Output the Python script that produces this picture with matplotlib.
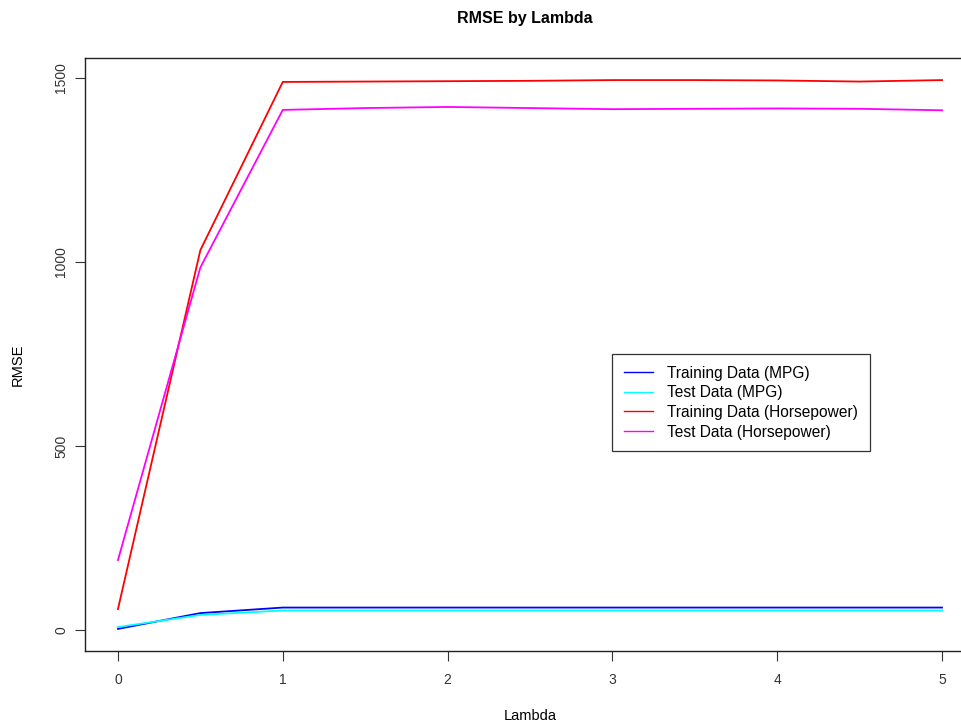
import matplotlib
matplotlib.use("Agg")
import matplotlib.pyplot as plt
from matplotlib.lines import Line2D

plt.rcParams['font.family'] = ['Liberation Sans', 'DejaVu Sans']

# lambda grid and RMSE values
lambdas = [0, 0.5, 1, 1.5, 2, 2.5, 3, 3.5, 4, 4.5, 5]
train_mpg = [3, 46, 61, 61, 61, 61, 61, 61, 61, 61, 61]
test_mpg = [8, 41, 53, 53, 53, 53, 53, 53, 53, 53, 53]
train_hp = [57, 1032, 1489, 1490, 1491, 1492, 1494, 1494, 1493, 1490, 1494]
test_hp = [190, 985, 1413, 1418, 1421, 1418, 1415, 1416, 1417, 1416, 1412]

series = [
    ("Training Data (MPG)", train_mpg, "blue"),
    ("Test Data (MPG)", test_mpg, "cyan"),
    ("Training Data (Horsepower)", train_hp, "red"),
    ("Test Data (Horsepower)", test_hp, "magenta"),
]

W, H = 961, 726
fig = plt.figure(figsize=(W / 100, H / 100), dpi=100)
ax = fig.add_axes([85 / W, 75 / H, 890 / W, 593 / H])

for label, vals, col in series:
    ax.plot(lambdas, vals, color=col, lw=1.3)

ax.set_xlim(-0.2, 5.2)
ax.set_ylim(-57, 1554)
ax.set_xticks([0, 1, 2, 3, 4, 5])
ax.set_yticks([0, 500, 1000, 1500])
ax.set_yticklabels(["0", "500", "1000", "1500"], rotation=90, va="center")
ax.tick_params(axis="both", direction="out", length=7, width=0.8,
               colors="#333333", labelsize=10)
ax.tick_params(axis="x", pad=9)
ax.tick_params(axis="y", pad=5)
for s in ax.spines.values():
    s.set_linewidth(1.0)
    s.set_color("#222222")

# titles placed in figure pixels like the R device layout
fig.text(525 / W, 1 - 18 / H, "RMSE by Lambda", fontsize=11.5,
         fontweight="bold", ha="center", va="center")
fig.text(530 / W, 1 - 716 / H, "Lambda", fontsize=10.5,
         ha="center", va="center")
fig.text(18 / W, 1 - 365 / H, "RMSE", fontsize=10.5, rotation=90,
         ha="center", va="center")

handles = [Line2D([0], [0], color=c, lw=1) for _, _, c in series]
leg = ax.legend(handles, [s[0] for s in series], loc="upper left",
                bbox_to_anchor=(0.592, 0.501), borderaxespad=0,
                fontsize=11.2, frameon=True, fancybox=False,
                handlelength=1.9, handletextpad=0.9, borderpad=0.75,
                labelspacing=0.3)
leg.get_frame().set_edgecolor("black")
leg.get_frame().set_linewidth(0.9)

fig.savefig("out.png", dpi=100)
